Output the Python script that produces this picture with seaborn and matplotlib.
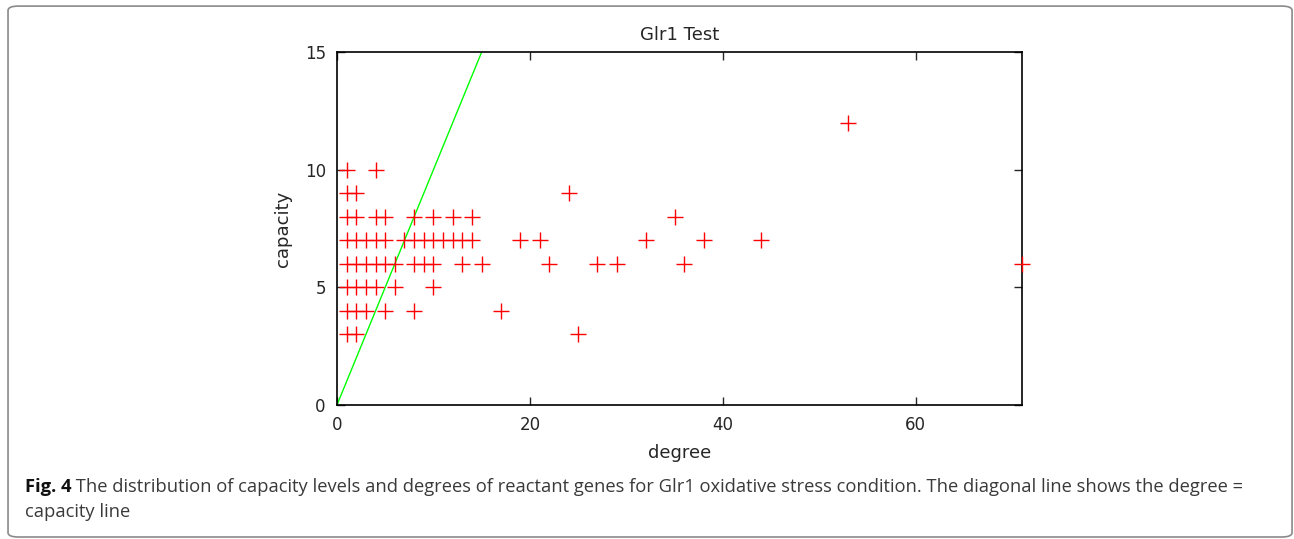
import pandas as pd
import seaborn as sns
import matplotlib.pyplot as plt
from matplotlib.patches import FancyBboxPatch

# degree / capacity of the reactant genes
degree = [1, 4,
          1, 2, 24,
          1, 2, 4, 5, 8, 10, 12, 14, 35,
          1, 2, 3, 4, 5, 7, 8, 9, 10, 11, 12, 13, 14, 19, 21, 32, 38, 44,
          1, 2, 3, 4, 5, 6, 8, 9, 10, 13, 15, 22, 27, 29, 36, 71,
          1, 2, 3, 4, 6, 10,
          1, 2, 3, 5, 8, 17,
          1, 2, 25,
          53]
capacity = [10, 10,
            9, 9, 9,
            8, 8, 8, 8, 8, 8, 8, 8, 8,
            7, 7, 7, 7, 7, 7, 7, 7, 7, 7, 7, 7, 7, 7, 7, 7, 7, 7,
            6, 6, 6, 6, 6, 6, 6, 6, 6, 6, 6, 6, 6, 6, 6, 6,
            5, 5, 5, 5, 5, 5,
            4, 4, 4, 4, 4, 4,
            3, 3, 3,
            12]

# degree = capacity line
line_x = [0, 15]
line_y = [0, 15]

x_ticks = [0, 20, 40, 60]
y_ticks = [0, 5, 10, 15]

df = pd.DataFrame({'degree': degree, 'capacity': capacity})

sns.set_style("ticks")
plt.rcParams['font.family'] = ['DejaVu Sans']

fig = plt.figure(figsize=(12.94, 5.39), dpi=100)
ax = fig.add_axes([0.2604, 0.2486, 0.5294, 0.6549])

sns.lineplot(x=line_x, y=line_y, color='#00ff00', linewidth=1, ax=ax)
sns.scatterplot(data=df, x='degree', y='capacity', marker='+', s=125,
                color='red', linewidth=1, ax=ax, clip_on=False, zorder=3)

ax.set_xlim(0, 71)
ax.set_ylim(0, 15)
ax.set_xticks(x_ticks)
ax.set_yticks(y_ticks)
ax.tick_params(direction='in', length=6, width=1, top=True, right=True,
               labelsize=12, pad=8)
for sp in ax.spines.values():
    sp.set_linewidth(1.2)
    sp.set_color('black')

ax.set_title('Glr1 Test', fontsize=13, pad=9)
ax.set_xlabel('degree', fontsize=13, labelpad=7)
ax.set_ylabel('capacity', fontsize=13, labelpad=9)

# рамка подписи
box = FancyBboxPatch((0.0062, 0.0037), 0.9923, 0.985,
                     boxstyle='round,pad=0,rounding_size=0.008',
                     transform=fig.transFigure, facecolor='none', edgecolor='#8a8a8a',
                     linewidth=1.2, zorder=0)
fig.patches.append(box)

cap_font = ['Open Sans', 'DejaVu Sans']
t1 = fig.text(0.0193, 0.088, 'Fig. 4', fontsize=13.2, fontweight='bold',
              family=cap_font, color='#111111', va='baseline')
plt.annotate(' The distribution of capacity levels and degrees of reactant genes for Glr1 '
             'oxidative stress condition. The diagonal line shows the degree =',
             xy=(1, 0), xycoords=t1, va='bottom', ha='left',
             fontsize=13.2, family=cap_font, color='#3a3a3a', annotation_clip=False)
fig.text(0.0193, 0.040, 'capacity line', fontsize=13.2, family=cap_font,
         color='#3a3a3a', va='baseline')

plt.savefig('out.png', dpi=100)
